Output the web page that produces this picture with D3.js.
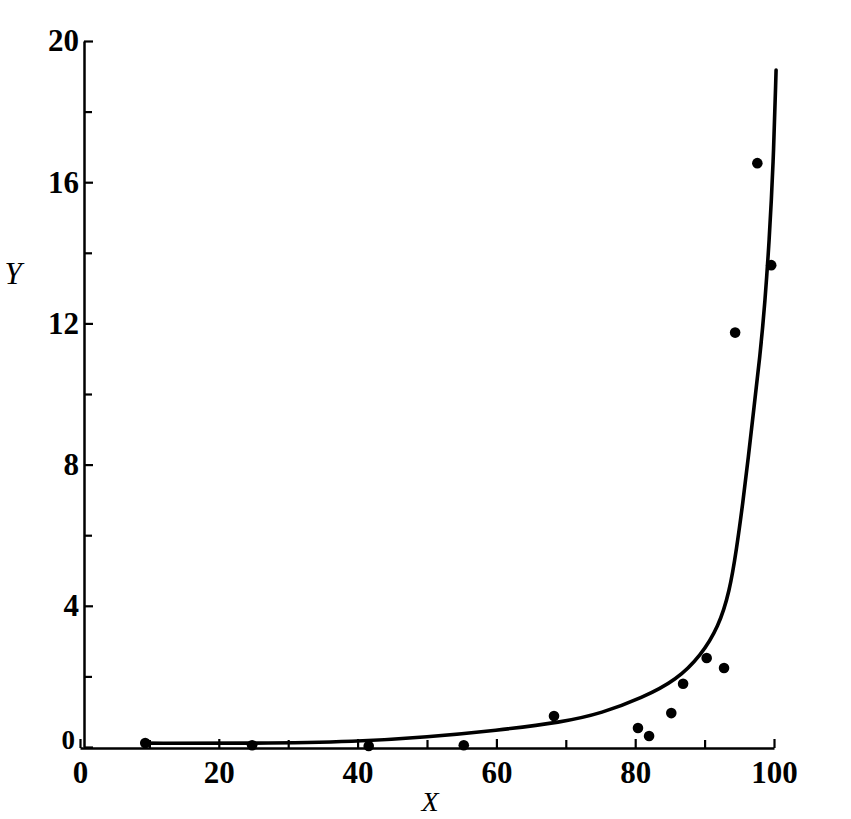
<!DOCTYPE html>
<html>
<head>
<meta charset="utf-8">
<script src="https://cdn.jsdelivr.net/npm/d3@7"></script>
<style>
  html, body { margin: 0; padding: 0; background: #fff; }
  svg { display: block; }
</style>
</head>
<body>
<svg id="chart" width="851" height="819"></svg>
<script>
// ---- data ----
const pointX = [9.4, 24.8, 41.6, 55.3, 68.3, 80.4, 82.0, 85.2, 86.9, 90.3, 92.8, 94.4, 97.6, 99.6];
const pointY = [0.11, 0.05, 0.03, 0.05, 0.88, 0.54, 0.31, 0.96, 1.79, 2.52, 2.24, 11.74, 16.54, 13.65];

const curveX = [9.4, 9.4, 25, 40, 50, 60, 69.5, 75.2, 81.0, 86.0, 89.5, 92.0, 93.6, 94.6, 95.5, 96.3, 97.1, 98.0, 98.7, 99.3, 99.9, 100.3, 100.3];
const curveY = [0.11, 0.11, 0.10, 0.15, 0.28, 0.47, 0.70, 0.96, 1.39, 1.90, 2.60, 3.40, 4.40, 5.60, 6.90, 8.20, 9.60, 11.10, 12.60, 14.30, 16.50, 19.18, 19.18];

const xMajorTicks = [0, 20, 40, 60, 80, 100];
const xMinorTicks = [10, 30, 50, 70, 90];
const yMajorTicks = [0, 4, 8, 12, 16, 20];
const yMinorTicks = [2, 6, 10, 14, 18];
const xTitle = "X";
const yTitle = "Y";

// ---- drawing ----
const svg = d3.select("#chart");
const x = d3.scaleLinear().domain([0, 100]).range([80, 774]);
const y = d3.scaleLinear().domain([0, 20]).range([747, 41]);

const font = "'Liberation Serif', 'DejaVu Serif', serif";

function styleAxis(g) {
  g.select(".domain").attr("stroke", "#000").attr("stroke-width", 2.5);
  g.selectAll(".tick line").attr("stroke", "#000").attr("stroke-width", 2.2);
  g.selectAll(".tick text")
    .attr("fill", "#000")
    .style("font-family", font)
    .style("font-weight", "bold")
    .style("font-size", "31px");
}

// x axis (ticks pointing up, inward)
const xAxisG = svg.append("g")
  .attr("transform", `translate(0,${y(0) + 1})`)
  .call(d3.axisBottom(x).tickValues(xMajorTicks).tickFormat(d3.format("d"))
    .tickSizeInner(-9).tickSizeOuter(0).tickPadding(13));
styleAxis(xAxisG);
const xMinorG = svg.append("g")
  .attr("transform", `translate(0,${y(0) + 1})`)
  .call(d3.axisBottom(x).tickValues(xMinorTicks).tickFormat("")
    .tickSizeInner(-8).tickSizeOuter(0));
styleAxis(xMinorG);
xMinorG.select(".domain").remove();

// y axis (ticks pointing right, inward)
const yAxisG = svg.append("g")
  .attr("transform", `translate(84,0)`)
  .call(d3.axisLeft(y).tickValues(yMajorTicks).tickFormat(d3.format("d"))
    .tickSizeInner(-9).tickSizeOuter(0).tickPadding(5));
styleAxis(yAxisG);
// the "0" on the y axis sits a little higher and smaller in the original
yAxisG.selectAll(".tick text").filter(d => d === 0)
  .attr("dy", "0.05em").attr("x", -9).style("font-size", "27px");
const yMinorG = svg.append("g")
  .attr("transform", `translate(84,0)`)
  .call(d3.axisLeft(y).tickValues(yMinorTicks).tickFormat("")
    .tickSizeInner(-8).tickSizeOuter(0));
styleAxis(yMinorG);
yMinorG.select(".domain").remove();

// fitted curve
const curveData = curveX.map((v, i) => [v, curveY[i]]);
svg.append("path")
  .datum(curveData)
  .attr("fill", "none")
  .attr("stroke", "#000")
  .attr("stroke-width", 3.6)
  .attr("stroke-linecap", "round")
  .attr("d", d3.line().x(d => x(d[0])).y(d => y(d[1])).curve(d3.curveBasis));

// observed points
const pts = pointX.map((v, i) => [v, pointY[i]]);
svg.append("g").selectAll("circle")
  .data(pts)
  .join("circle")
  .attr("cx", d => x(d[0]))
  .attr("cy", d => y(d[1]))
  .attr("r", 5.3)
  .attr("fill", "#000");

// axis titles
svg.append("text")
  .attr("x", 430).attr("y", 811)
  .attr("text-anchor", "middle")
  .style("font-family", font)
  .style("font-style", "italic")
  .style("font-size", "28px")
  .text(xTitle);

svg.append("text")
  .attr("x", 13).attr("y", 284)
  .attr("text-anchor", "middle")
  .style("font-family", font)
  .style("font-style", "italic")
  .style("font-size", "31px")
  .text(yTitle);
</script>
</body>
</html>
